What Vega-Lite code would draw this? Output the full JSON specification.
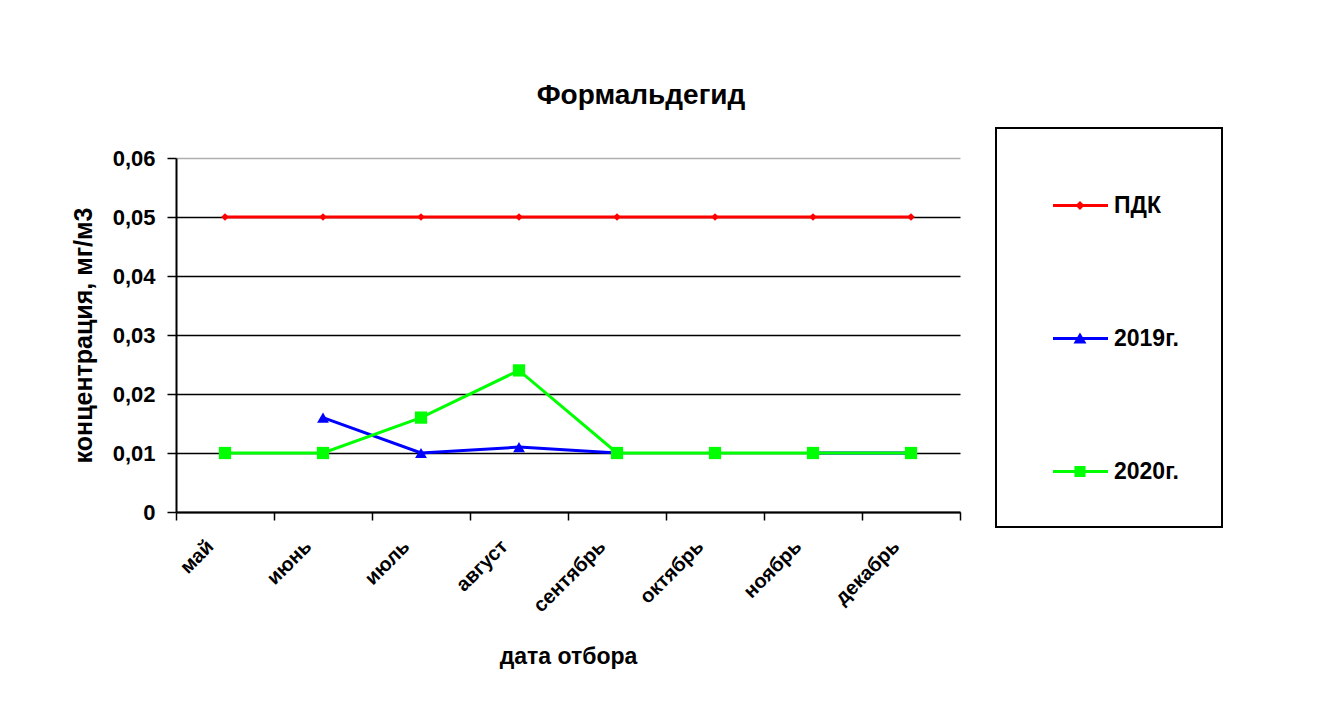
{
  "$schema": "https://vega.github.io/schema/vega-lite/v6.json",
  "autosize": "none",
  "width": 784,
  "height": 354,
  "padding": {"left": 176, "top": 158, "right": 360, "bottom": 212},
  "background": "white",
  "title": {"text": "Формальдегид", "font": "Liberation Sans", "fontSize": 28, "fontWeight": "bold", "color": "black", "anchor": "middle", "frame": "group", "dx": 73, "offset": 17},
  "data": {"values": [
    {"month": "май", "series": "ПДК", "value": 0.05},
    {"month": "июнь", "series": "ПДК", "value": 0.05},
    {"month": "июль", "series": "ПДК", "value": 0.05},
    {"month": "август", "series": "ПДК", "value": 0.05},
    {"month": "сентябрь", "series": "ПДК", "value": 0.05},
    {"month": "октябрь", "series": "ПДК", "value": 0.05},
    {"month": "ноябрь", "series": "ПДК", "value": 0.05},
    {"month": "декабрь", "series": "ПДК", "value": 0.05},
    {"month": "май", "series": "2019г.", "value": null},
    {"month": "июнь", "series": "2019г.", "value": 0.016},
    {"month": "июль", "series": "2019г.", "value": 0.01},
    {"month": "август", "series": "2019г.", "value": 0.011},
    {"month": "сентябрь", "series": "2019г.", "value": 0.01},
    {"month": "октябрь", "series": "2019г.", "value": null},
    {"month": "ноябрь", "series": "2019г.", "value": 0.01},
    {"month": "декабрь", "series": "2019г.", "value": 0.01},
    {"month": "май", "series": "2020г.", "value": 0.01},
    {"month": "июнь", "series": "2020г.", "value": 0.01},
    {"month": "июль", "series": "2020г.", "value": 0.016},
    {"month": "август", "series": "2020г.", "value": 0.024},
    {"month": "сентябрь", "series": "2020г.", "value": 0.01},
    {"month": "октябрь", "series": "2020г.", "value": 0.01},
    {"month": "ноябрь", "series": "2020г.", "value": 0.01},
    {"month": "декабрь", "series": "2020г.", "value": 0.01}
  ]},
  "encoding": {
    "x": {
      "field": "month", "type": "nominal",
      "sort": ["май", "июнь", "июль", "август", "сентябрь", "октябрь", "ноябрь", "декабрь"],
      "scale": {"type": "band", "paddingInner": 0, "paddingOuter": 0},
      "axis": {
        "title": "дата отбора", "labelAngle": -45, "tickBand": "extent", "labelOffset": -22,
        "domainColor": "black", "domainWidth": 2, "tickColor": "black", "tickWidth": 1.5, "tickSize": 8,
        "labelFont": "Liberation Sans", "labelFontSize": 20, "labelFontWeight": "bold", "labelColor": "black", "labelPadding": 16,
        "titleFont": "Liberation Sans", "titleFontSize": 23, "titleFontWeight": "bold", "titleColor": "black", "titlePadding": 30
      }
    },
    "y": {
      "field": "value", "type": "quantitative",
      "scale": {"domain": [0, 0.06], "nice": false},
      "axis": {
        "title": "концентрация, мг/м3",
        "values": [0, 0.01, 0.02, 0.03, 0.04, 0.05, 0.06],
        "labelExpr": "datum.value == 0 ? '0' : replace(format(datum.value, '.2f'), '.', ',')",
        "grid": true,
        "gridColor": {"condition": {"test": "datum.value >= 0.059", "value": "#b0b0b0"}, "value": "black"},
        "gridWidth": 1.5,
        "domainColor": "black", "domainWidth": 2, "tickColor": "black", "tickWidth": 1.5, "tickSize": 9,
        "labelFont": "Liberation Sans", "labelFontSize": 22, "labelFontWeight": "bold", "labelColor": "black", "labelPadding": 12,
        "titleFont": "Liberation Sans", "titleFontSize": 25, "titleFontWeight": "bold", "titleColor": "black", "titlePadding": 16
      }
    },
    "color": {
      "field": "series", "type": "nominal",
      "scale": {"domain": ["ПДК", "2019г.", "2020г."], "range": ["#ff0000", "#0000ff", "#00ff00"]},
      "legend": {
        "title": null, "orient": "none", "legendX": 820, "legendY": -30, "padding": 43,
        "strokeColor": "black", "symbolSize": 4761, "rowPadding": 86, "labelOffset": 6,
        "labelFont": "Liberation Sans", "labelFontSize": 23, "labelFontWeight": "bold", "labelColor": "black", "labelLimit": 300,
        "encode": {
          "legend": {"update": {"strokeWidth": {"value": 2}}},
          "symbols": {"update": {
            "shape": {"signal": "datum.value === 'ПДК' ? 'M-0.594,-0.043H1V0.043H-0.594Z M0.188,-0.13L0.318,0L0.188,0.13L0.058,0Z' : datum.value === '2019г.' ? 'M-0.594,-0.043H1V0.043H-0.594Z M0.188,-0.174L0.376,0.145H0Z' : 'M-0.594,-0.043H1V0.043H-0.594Z M0.028,-0.16H0.348V0.16H0.028Z'"},
            "fill": {"scale": "color", "field": "value"},
            "fillOpacity": {"value": 1},
            "opacity": {"value": 1},
            "strokeWidth": {"value": 0}
          }}
        }
      }
    }
  },
  "layer": [
    {"mark": {"type": "line", "strokeWidth": 3, "invalid": "break-paths-filter-domains"}},
    {
      "transform": [{"filter": "datum.series === 'ПДК'"}],
      "mark": {"type": "point", "filled": true, "opacity": 1, "strokeWidth": 0, "shape": "diamond", "size": 60}
    },
    {
      "transform": [{"filter": "datum.series === '2019г.'"}],
      "mark": {"type": "point", "filled": true, "opacity": 1, "strokeWidth": 0, "shape": "triangle-up", "size": 140}
    },
    {
      "transform": [{"filter": "datum.series === '2020г.'"}],
      "mark": {"type": "point", "filled": true, "opacity": 1, "strokeWidth": 0, "shape": "square", "size": 150}
    }
  ],
  "config": {"view": {"stroke": null}}
}
